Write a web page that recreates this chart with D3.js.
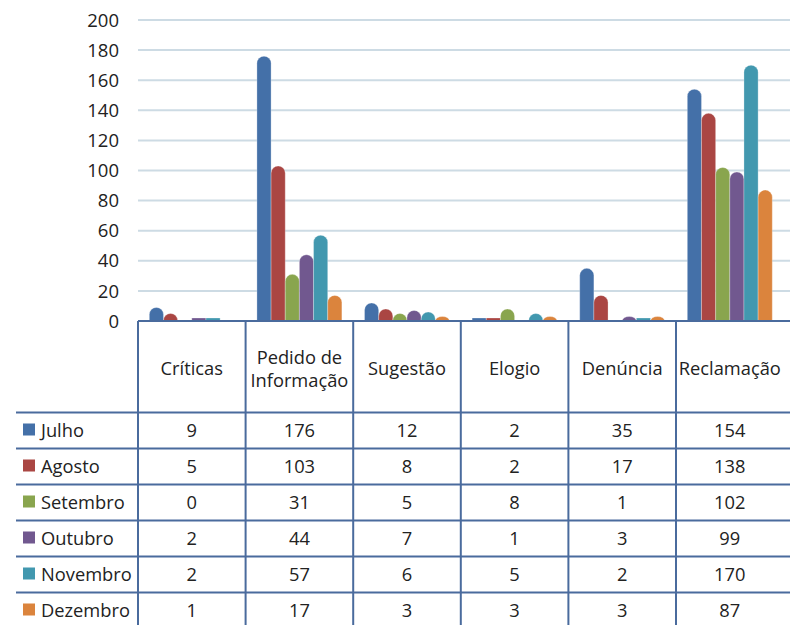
<!DOCTYPE html>
<html>
<head>
<meta charset="utf-8">
<script src="https://cdn.jsdelivr.net/npm/d3@7"></script>
<style>
  body { margin: 0; background: #fff; }
  text { font-family: "Open Sans", "Noto Sans", sans-serif; fill: #222; }
</style>
</head>
<body>
<div id="chart"></div>
<script>
// categories and months
var categories = ["Críticas", "Pedido de|Informação", "Sugestão", "Elogio", "Denúncia", "Reclamação"];
var months     = ["Julho", "Agosto", "Setembro", "Outubro", "Novembro", "Dezembro"];
var colors     = ["#4470A8", "#AA4643", "#89A54E", "#71588F", "#4298AF", "#DB843D"];

// one array per month, same order as categories
var julho    = [9, 176, 12, 2, 35, 154];
var agosto   = [5, 103, 8, 2, 17, 138];
var setembro = [0, 31, 5, 8, 1, 102];
var outubro  = [2, 44, 7, 1, 3, 99];
var novembro = [2, 57, 6, 5, 2, 170];
var dezembro = [1, 17, 3, 3, 3, 87];
var series   = [julho, agosto, setembro, outubro, novembro, dezembro];

var yTicks = [0, 20, 40, 60, 80, 100, 120, 140, 160, 180, 200];

var width  = 790,
    height = 625,
    left   = 138,
    catW   = 107.6,
    baseY  = 321,
    topY   = 20,
    headerH = 91.5,
    rowH    = 36,
    legendX = 16,
    fontSize = "18.3px",
    lineColor = "#4a6b9d",
    gridColor = "#cddbe4";

var svg = d3.select("#chart").append("svg")
    .attr("width", width)
    .attr("height", height);

var x = d3.scaleBand()
    .domain(categories)
    .range([left, left + catW * categories.length]);

var xm = d3.scaleBand()
    .domain(months)
    .range([0, catW])
    .paddingInner(0)
    .paddingOuter(0.8);

var y = d3.scaleLinear()
    .domain([0, 200])
    .range([baseY, topY]);

// gridlines
svg.append("g").selectAll("line")
    .data(yTicks.filter(function(d){ return d > 0; }))
    .enter().append("line")
    .attr("x1", left)
    .attr("x2", width)
    .attr("y1", function(d){ return y(d); })
    .attr("y2", function(d){ return y(d); })
    .style("stroke", gridColor)
    .style("stroke-width", 2);

// tick labels
svg.append("g").selectAll("text")
    .data(yTicks)
    .enter().append("text")
    .attr("x", 119)
    .attr("y", function(d){ return y(d); })
    .attr("dy", "0.36em")
    .attr("text-anchor", "end")
    .style("font-size", "18.5px")
    .text(function(d){ return d; });

// bar with rounded top (tiny values are not visible in the original)
function barPath(x0, w, h) {
    if (h < 2) return "";
    if (h < 3.6) {
        return "M" + x0 + "," + baseY + "h" + w + "v" + (-h) + "h" + (-w) + "Z";
    }
    var rx = w / 2, ry = Math.min(w / 2, h);
    return "M" + x0 + "," + baseY +
        "V" + (baseY - h + ry) +
        "A" + rx + "," + ry + " 0 0 1 " + (x0 + w) + "," + (baseY - h + ry) +
        "V" + baseY + "Z";
}

var groups = svg.append("g").selectAll("g")
    .data(series)
    .enter().append("g")
    .style("fill", function(d, i){ return colors[i]; });

groups.each(function(vals, i) {
    d3.select(this).selectAll("path")
        .data(vals)
        .enter().append("path")
        .attr("d", function(v, j) {
            var x0 = x(categories[j]) + xm(months[i]);
            return barPath(x0, xm.bandwidth(), baseY - y(v));
        })
        .style("stroke", "rgba(255,255,255,0.35)")
        .style("stroke-width", 0.8);
});

// data table
var tableBottom = baseY + headerH + rowH * months.length;
var grid = svg.append("g").style("stroke", lineColor).style("stroke-width", 2);

// axis line / table top
grid.append("line")
    .attr("x1", left).attr("x2", width)
    .attr("y1", baseY).attr("y2", baseY);

// vertical lines
var vx = categories.map(function(c){ return x(c); });
grid.selectAll(".v")
    .data(vx)
    .enter().append("line")
    .attr("x1", function(d){ return d; })
    .attr("x2", function(d){ return d; })
    .attr("y1", baseY)
    .attr("y2", tableBottom);

// horizontal row lines
grid.selectAll(".h")
    .data(months)
    .enter().append("line")
    .attr("x1", legendX).attr("x2", width)
    .attr("y1", function(d, i){ return baseY + headerH + i * rowH; })
    .attr("y2", function(d, i){ return baseY + headerH + i * rowH; });

// header labels
svg.append("g").selectAll("text")
    .data(categories)
    .enter().append("text")
    .attr("x", function(c){ return x(c) + catW / 2; })
    .attr("y", baseY + headerH / 2 + 2)
    .attr("text-anchor", "middle")
    .style("font-size", fontSize)
    .each(function(c) {
        var parts = c.split("|");
        var t = d3.select(this);
        parts.forEach(function(p, k) {
            t.append("tspan")
                .attr("x", x(c) + catW / 2)
                .attr("dy", k == 0 ? ((0.36 - (parts.length - 1) * 0.62) + "em") : "1.24em")
                .text(p);
        });
    });

// rows
var rows = svg.append("g").selectAll("g")
    .data(series)
    .enter().append("g")
    .attr("transform", function(d, i){
        return "translate(0," + (baseY + headerH + i * rowH + rowH / 2) + ")";
    });

rows.append("rect")
    .attr("x", 23)
    .attr("y", -7)
    .attr("width", 12)
    .attr("height", 12)
    .style("fill", function(d, i){ return colors[i]; });

rows.append("text")
    .attr("x", 41)
    .attr("dy", "0.36em")
    .style("font-size", fontSize)
    .text(function(d, i){ return months[i]; });

rows.selectAll(".val")
    .data(function(d){ return d; })
    .enter().append("text")
    .attr("x", function(v, j){ return x(categories[j]) + catW / 2; })
    .attr("dy", "0.36em")
    .attr("text-anchor", "middle")
    .style("font-size", fontSize)
    .text(function(v){ return v; });
</script>
</body>
</html>
